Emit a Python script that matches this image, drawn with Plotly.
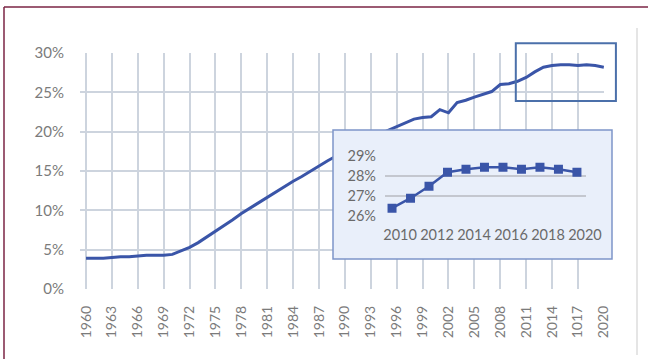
import plotly.graph_objects as go

# ---- data -------------------------------------------------------------
years = list(range(1960, 2021))
share = [
    3.9, 3.9, 3.9, 4.0, 4.1, 4.1, 4.2, 4.3, 4.3, 4.3,      # 1960-1969
    4.4, 4.8, 5.3, 5.9, 6.6, 7.4, 8.1, 8.8, 9.6, 10.3,     # 1970-1979
    11.0, 11.7, 12.4, 13.0, 13.7, 14.3, 15.0, 15.6, 16.3, 16.9,  # 1980-1989
    17.5, 18.1, 18.6, 19.2, 19.7, 20.2, 20.7, 21.1, 21.6, 21.8,  # 1990-1999
    21.9, 22.8, 22.4, 23.7, 24.0, 24.4, 24.8, 25.1, 26.0, 26.1,  # 2000-2009
    26.4, 26.9, 27.6, 28.2, 28.4, 28.5, 28.5, 28.4, 28.5, 28.4,  # 2010-2019
    28.2,                                                   # 2020
]

zoom_years = list(range(2010, 2021))
zoom_share = [26.4, 26.9, 27.5, 28.2, 28.35, 28.45, 28.45, 28.35, 28.45, 28.35, 28.2]

main_tick_years = list(range(1960, 2021, 3))
main_tick_text = ["1960", "1963", "1966", "1969", "1972", "1975", "1978", "1981",
                  "1984", "1987", "1990", "1993", "1996", "1999", "2002", "2005",
                  "2008", "2011", "2014", "1017", "2020"]
main_y_ticks = [0, 5, 10, 15, 20, 25, 30]
zoom_x_ticks = [2010, 2012, 2014, 2016, 2018, 2020]
zoom_y_ticks = [26, 27, 28, 29]

# ---- geometry ---------------------------------------------------------
W, H = 648, 359
L, RP, T, B = 80, 620, 53, 289          # paper area in pixels
MAIN_RIGHT = 604                        # right edge of main plot in pixels
X_RANGE = [1959.3, 2020.02]
Y_RANGE = [0, 30]


def px_x(p):
    return (p - L) / (RP - L)


def px_y(p):
    return (B - p) / (B - T)


main_dom_x = [0, px_x(MAIN_RIGHT)]


def data_x(v):
    frac = (v - X_RANGE[0]) / (X_RANGE[1] - X_RANGE[0])
    return main_dom_x[0] + frac * (main_dom_x[1] - main_dom_x[0])


def data_y(v):
    return (v - Y_RANGE[0]) / (Y_RANGE[1] - Y_RANGE[0])


FONT = "Lato"
LINE_BLUE = "#3a55a8"
GRID = "#cdd4de"
INSET_BG = "#e9effa"
LABEL = "#7b7b7b"
INSET_LABEL = "#6a6a6a"

fig = go.Figure()

# main series
fig.add_trace(go.Scatter(
    x=years, y=share, mode="lines",
    line=dict(color=LINE_BLUE, width=3),
    xaxis="x", yaxis="y", showlegend=False, hoverinfo="x+y",
))

# background panel of the zoomed view
fig.add_trace(go.Scatter(x=[], y=[], xaxis="x2", yaxis="y2", showlegend=False))

# zoomed series 2010-2020
fig.add_trace(go.Scatter(
    x=zoom_years, y=zoom_share, mode="lines+markers",
    line=dict(color=LINE_BLUE, width=2.5),
    marker=dict(symbol="square", size=9, color=LINE_BLUE),
    xaxis="x3", yaxis="y3", showlegend=False,
))

inset_px = dict(x0=333, x1=612, y0=130, y1=259)
inset_plot_px = dict(x0=385, x1=586, y0=156.2, y1=216.2)

# highlight box around the 2010-2020 stretch of the main line
hx0 = data_x(min(zoom_years) - 0.2)
hx1 = data_x(max(zoom_years) + 1.4)
hy0 = data_y(min(zoom_share) - 2.5)
hy1 = data_y(max(zoom_share) + 2.8)

shapes = [
    # white backdrop for the main plot (the shared plot background is the inset tint)
    dict(type="rect", xref="paper", yref="paper", layer="below",
         x0=main_dom_x[0], x1=main_dom_x[1], y0=0, y1=1,
         fillcolor="white", line=dict(width=0)),
    # highlight box
    dict(type="rect", xref="paper", yref="paper", layer="above",
         x0=hx0, x1=hx1, y0=hy0, y1=hy1,
         line=dict(color="#4b70aa", width=2), fillcolor="rgba(0,0,0,0)"),
    # inset frame
    dict(type="rect", xref="paper", yref="paper", layer="above",
         x0=px_x(inset_px["x0"]), x1=px_x(inset_px["x1"]),
         y0=px_y(inset_px["y1"]), y1=px_y(inset_px["y0"]),
         line=dict(color="#7d95c9", width=1.5), fillcolor="rgba(0,0,0,0)"),
    # outer frame lines
    dict(type="line", xref="paper", yref="paper", layer="above",
         x0=px_x(4), x1=px_x(W + 2), y0=px_y(7), y1=px_y(7),
         line=dict(color="#7b2445", width=1.5)),
    dict(type="line", xref="paper", yref="paper", layer="above",
         x0=px_x(4), x1=px_x(4), y0=px_y(7), y1=px_y(H + 2),
         line=dict(color="#7b2445", width=1.5)),
    # right divider
    dict(type="line", xref="paper", yref="paper", layer="above",
         x0=px_x(637), x1=px_x(637), y0=px_y(28), y1=px_y(355),
         line=dict(color="#dcdcdc", width=1.5)),
]

fig.update_layout(
    width=W, height=H,
    margin=dict(l=L, r=W - RP, t=T, b=H - B),
    paper_bgcolor="white",
    plot_bgcolor=INSET_BG,
    font=dict(family=FONT, color=LABEL),
    shapes=shapes,
    xaxis=dict(
        domain=main_dom_x, range=X_RANGE, tickmode="array",
        tickvals=main_tick_years, ticktext=main_tick_text, tickangle=-90,
        showgrid=True, gridcolor=GRID, gridwidth=1.5, zeroline=False,
        showline=False, ticks="", ticklabelstandoff=13,
        tickfont=dict(size=14, color=LABEL, family=FONT), anchor="y",
    ),
    yaxis=dict(
        domain=[0, 1], range=Y_RANGE, tickmode="array", tickvals=main_y_ticks,
        ticktext=[f"{v}%" for v in main_y_ticks],
        showgrid=True, gridcolor=GRID, gridwidth=1.5, zeroline=False,
        showline=False, ticks="", ticklabelstandoff=15,
        tickfont=dict(size=15, color=LABEL, family=FONT), anchor="x",
    ),
    xaxis2=dict(
        domain=[px_x(inset_px["x0"]), px_x(inset_px["x1"])], range=[0, 1],
        visible=False, anchor="y2", fixedrange=True,
    ),
    yaxis2=dict(
        domain=[px_y(inset_px["y1"]), px_y(inset_px["y0"])], range=[0, 1],
        visible=False, anchor="x2", fixedrange=True,
    ),
    xaxis3=dict(
        domain=[px_x(inset_plot_px["x0"]), px_x(inset_plot_px["x1"])],
        range=[2009.62, 2020.49], tickmode="array", tickvals=zoom_x_ticks,
        showgrid=False, zeroline=False, showline=False, ticks="",
        ticklabelstandoff=8, ticklabelshift=8,
        tickfont=dict(size=14.5, color=INSET_LABEL, family=FONT), anchor="y3",
    ),
    yaxis3=dict(
        domain=[px_y(inset_plot_px["y1"]), px_y(inset_plot_px["y0"])],
        range=[26, 29], tickmode="array", tickvals=zoom_y_ticks,
        ticktext=[f"{v}%" for v in zoom_y_ticks],
        showgrid=True, gridcolor="#c4c7cf", gridwidth=1.5, zeroline=False,
        showline=False, ticks="", ticklabelstandoff=8,
        tickfont=dict(size=14.5, color=INSET_LABEL, family=FONT), anchor="x3",
    ),
)

fig.write_html("out.html")
